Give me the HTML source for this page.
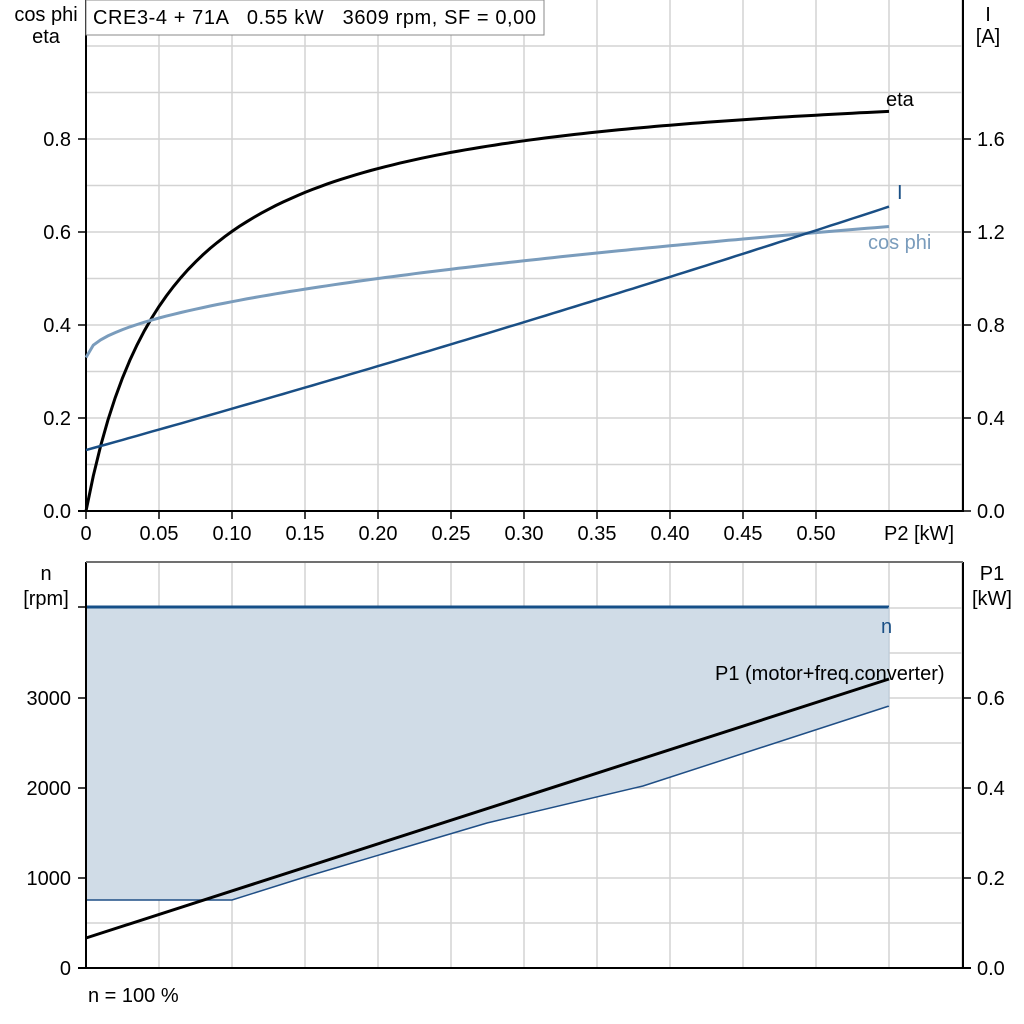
<!DOCTYPE html>
<html><head><style>
body{margin:0;background:#fff;}
svg{display:block;font-family:"Liberation Sans",Arial,sans-serif;}
text{white-space:pre;}
</style></head><body>
<svg width="1024" height="1024" viewBox="0 0 1024 1024" xmlns="http://www.w3.org/2000/svg">
<g stroke="#d3d3d3" stroke-width="1.5" id="grid"></g>
<path d="M86,607 L889,607 L889,706 L643,786 L487,823 L305,877 L232,900 L86,900 Z" fill="#d0dce7"/>
<path d="M86,900 L232,900 L305,877 L487,823 L643,786 L889,706" fill="none" stroke="#1f4e85" stroke-width="1.5"/>
<line x1="86" y1="607" x2="889" y2="607" stroke="#154f88" stroke-width="3"/>
<line x1="889" y1="607" x2="889" y2="706" stroke="#b9c7d6" stroke-width="1"/>
<line x1="86" y1="938" x2="889" y2="679" stroke="#000" stroke-width="3"/>
<g stroke="#000" stroke-width="2">
<line x1="86" y1="0" x2="86" y2="512"/><line x1="78" y1="511" x2="963" y2="511"/><line x1="963" y1="0" x2="963" y2="512"/>
<line x1="86" y1="562" x2="86" y2="969"/><line x1="78" y1="968" x2="971" y2="968"/><line x1="963" y1="562" x2="963" y2="969"/>
</g>
<line x1="86" y1="562" x2="963" y2="562" stroke="#707070" stroke-width="2"/>
<g stroke="#000" stroke-width="1.5" id="ticks"></g>
<path id="eta" fill="none" stroke="#000" stroke-width="3"/>
<path id="cos" fill="none" stroke="#7a9cbc" stroke-width="3"/>
<path id="cur" fill="none" stroke="#1a4f85" stroke-width="2.5"/>
<rect x="86" y="0" width="458" height="35" fill="#fff" stroke="#888" stroke-width="1"/>
<g font-size="20" fill="#000">
<text x="93" y="24" textLength="443" lengthAdjust="spacing">CRE3-4 + 71A   0.55 kW   3609 rpm, SF = 0,00</text>
<text x="46" y="21" text-anchor="middle">cos phi</text>
<text x="46" y="43" text-anchor="middle">eta</text>
<text x="988" y="21" text-anchor="middle">I</text>
<text x="988" y="43" text-anchor="middle">[A]</text>
<text x="46" y="580" text-anchor="middle">n</text>
<text x="46" y="605" text-anchor="middle">[rpm]</text>
<text x="992" y="580" text-anchor="middle">P1</text>
<text x="992" y="605" text-anchor="middle">[kW]</text>
<text x="886" y="106">eta</text>
<text x="897" y="199" fill="#1a4f85">I</text>
<text x="868" y="249" fill="#7a9cbc">cos phi</text>
<text x="881" y="633" fill="#1a4f85">n</text>
<text x="715" y="680">P1 (motor+freq.converter)</text>
<text x="88" y="1002">n = 100 %</text>
</g>
<g font-size="20" id="labels"></g>
<script>
var g=document.getElementById('grid'),t=document.getElementById('ticks'),L=document.getElementById('labels');
var NS='http://www.w3.org/2000/svg';
function ln(p,x1,y1,x2,y2){var e=document.createElementNS(NS,'line');e.setAttribute('x1',x1);e.setAttribute('y1',y1);e.setAttribute('x2',x2);e.setAttribute('y2',y2);p.appendChild(e);}
function tx(x,y,s,a){var e=document.createElementNS(NS,'text');e.setAttribute('x',x);e.setAttribute('y',y);e.setAttribute('text-anchor',a);e.textContent=s;L.appendChild(e);}
for(var i=1;i<=12;i++){var x=86+73*i;if(x<963){ln(g,x,0,x,511);ln(g,x,562,x,968);}}
for(var i=1;i<=11;i++){var y=511-46.5*i;if(y>0)ln(g,86,y,963,y);}
for(var i=1;i<=8;i++){var y=968-45*i;ln(g,86,y,963,y);}
var xl=['0','0.05','0.10','0.15','0.20','0.25','0.30','0.35','0.40','0.45','0.50'];
for(var i=0;i<11;i++){tx(86+73*i,540,xl[i],'middle');ln(t,86+73*i,511,86+73*i,519);}
tx(919,540,'P2 [kW]','middle');
for(var i=0;i<5;i++){var y=511-93*i;tx(71,y+7,(i*0.2).toFixed(1),'end');tx(977,y+7,(i*0.4).toFixed(1),'start');ln(t,78,y,86,y);ln(t,963,y,971,y);}
for(var i=0;i<4;i++){var y=968-90*i;tx(71,y+7,String(i*1000),'end');tx(977,y+7,(i*0.2).toFixed(1),'start');ln(t,78,y,86,y);ln(t,963,y,971,y);}
ln(t,78,607,86,607);
var X=function(p){return 86+p*1460;},Y=function(v){return 511-v*465;};
var d='',c='',u='';
for(var k=0;k<=110;k++){var p=k*0.005;
var e=0.95*p/(p+0.058);d+=(k?'L':'M')+X(p).toFixed(1)+','+Y(e).toFixed(1);
var cp=0.33+0.38*Math.sqrt(p);
c+=(k?'L':'M')+X(p).toFixed(1)+','+Y(cp).toFixed(1);
var I=0.262+1.75*p+0.28*p*p;u+=(k?'L':'M')+X(p).toFixed(1)+','+(511-I*232.5).toFixed(1);}
document.getElementById('eta').setAttribute('d',d);
document.getElementById('cos').setAttribute('d',c);
document.getElementById('cur').setAttribute('d',u);
</script>
</svg>
</body></html>
